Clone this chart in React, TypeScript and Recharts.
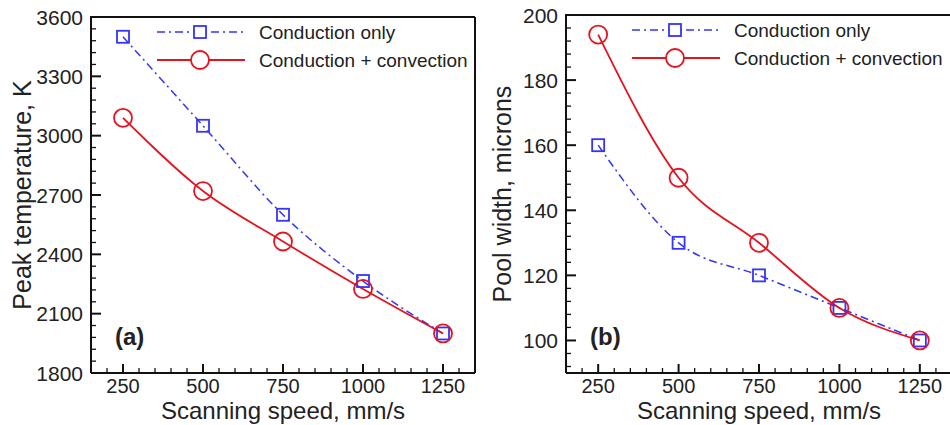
import React from 'react';
import { LineChart, Line, XAxis, YAxis } from 'recharts';

const speeds = [250, 500, 750, 1000, 1250];
const tempConduction = [3500, 3050, 2600, 2265, 2000];
const tempConvection = [3090, 2720, 2465, 2225, 2000];
const widthConduction = [160, 130, 120, 110, 100];
const widthConvection = [194, 150, 130, 110, 100];

const xTicks = [250, 500, 750, 1000, 1250];
const tempTicks = [1800, 2100, 2400, 2700, 3000, 3300, 3600];
const widthTicks = [100, 120, 140, 160, 180, 200];

const seriesNames = ['Conduction only', 'Conduction + convection'];

const BLUE = '#3535f5';
const RED = '#e3141f';
const INK = '#222';
const FONT = '"Liberation Sans", Arial, sans-serif';

const tempData = speeds.map((s, i) => ({ speed: s, a: tempConduction[i], b: tempConvection[i] }));
const widthData = speeds.map((s, i) => ({ speed: s, a: widthConduction[i], b: widthConvection[i] }));

// major + minor tick values for an axis
const withMinor = (lo: number, hi: number, step: number) => {
  const out: number[] = [];
  for (let v = lo; v <= hi + 1e-9; v += step) out.push(Math.round(v));
  return out;
};

const SquareDot = (props: any) => {
  const { cx, cy } = props;
  if (cx == null || cy == null) return null;
  return <rect x={cx - 6} y={cy - 6} width={12} height={12} fill="none" stroke={BLUE} strokeWidth={1.8} />;
};

const CircleDot = (props: any) => {
  const { cx, cy } = props;
  if (cx == null || cy == null) return null;
  return <circle cx={cx} cy={cy} r={9} fill="none" stroke={RED} strokeWidth={1.8} />;
};

const Legend = ({ x, y }: { x: number; y: number }) => (
  <g fontFamily={FONT} fontSize={19} fill={INK}>
    <line x1={x} x2={x + 88} y1={y} y2={y} stroke={BLUE} strokeWidth={1.5} strokeDasharray="8 4 2 4" />
    <rect x={x + 37} y={y - 6} width={12} height={12} fill="#fff" stroke={BLUE} strokeWidth={1.8} />
    <text x={x + 102} y={y + 7}>{seriesNames[0]}</text>
    <line x1={x} x2={x + 88} y1={y + 28} y2={y + 28} stroke={RED} strokeWidth={1.8} />
    <circle cx={x + 43} cy={y + 28} r={9} fill="#fff" stroke={RED} strokeWidth={1.8} />
    <text x={x + 102} y={y + 35}>{seriesNames[1]}</text>
  </g>
);

const makeYTick = (majors: number[], axisX: number) => (props: any) => {
  const { y, payload } = props;
  const major = majors.includes(payload.value);
  return (
    <g>
      <line x1={axisX} x2={axisX + (major ? 10 : 5)} y1={y} y2={y} stroke="#111" strokeWidth={major ? 2 : 1.3} />
      {major && (
        <text x={axisX - 8} y={y} dy="0.36em" textAnchor="end" fontFamily={FONT} fontSize={21} fill={INK}>
          {payload.value}
        </text>
      )}
    </g>
  );
};

const makeXTick = (majors: number[], axisY: number) => (props: any) => {
  const { x, payload } = props;
  const major = majors.includes(payload.value);
  return (
    <g>
      <line x1={x} x2={x} y1={axisY} y2={axisY - (major ? 9 : 5)} stroke="#111" strokeWidth={major ? 2 : 1.3} />
      {major && (
        <text x={x} y={axisY + 20} textAnchor="middle" fontFamily={FONT} fontSize={20} fill={INK}>
          {payload.value}
        </text>
      )}
    </g>
  );
};

interface PanelProps {
  data: any[];
  yTicks: number[];
  yAll: number[];
  yDomain: [number, number];
  yLabel: string;
  tag: string;
  yAxisWidth: number;
  top: number;
  right: number;
  width: number;
}

const PLOT_BOTTOM = 373;

const Panel = ({ data, yTicks, yAll, yDomain, yLabel, tag, yAxisWidth, top, right, width }: PanelProps) => {
  const xAll = withMinor(150, 1350, 50);
  return (
    <LineChart width={width} height={425} data={data} margin={{ top, right, left: 0, bottom: 0 }}>
      <XAxis dataKey="speed" type="number" domain={[150, 1350]} ticks={xAll} interval={0}
        tick={makeXTick(xTicks, PLOT_BOTTOM)} tickLine={false} height={425 - PLOT_BOTTOM} allowDataOverflow
        axisLine={{ stroke: '#111', strokeWidth: 2 }} />
      <YAxis type="number" domain={yDomain} ticks={yAll} width={yAxisWidth} interval={0}
        tick={makeYTick(yTicks, yAxisWidth)} tickLine={false} allowDataOverflow
        axisLine={{ stroke: '#111', strokeWidth: 2 }} />
      <Line type="monotone" dataKey="a" stroke={BLUE} strokeWidth={1.5}
        strokeDasharray="8 4 2 4" dot={<SquareDot />} activeDot={false} isAnimationActive={false} />
      <Line type="monotone" dataKey="b" stroke={RED} strokeWidth={1.8}
        dot={<CircleDot />} activeDot={false} isAnimationActive={false} />
      <line x1={yAxisWidth - 1} x2={width - right} y1={top} y2={top} stroke="#111" strokeWidth={2} />
      <line x1={width - right} x2={width - right} y1={top} y2={PLOT_BOTTOM} stroke="#111" strokeWidth={2} />
      <text x={yAxisWidth + 24} y={345} fontFamily={FONT} fontSize={24} fontWeight="bold" fill={INK}>{tag}</text>
      <text x={(yAxisWidth + width - right) / 2} y={419} textAnchor="middle" fontFamily={FONT} fontSize={24} fill={INK}>
        Scanning speed, mm/s
      </text>
      <text x={0} y={0} transform={`translate(31, ${(top + PLOT_BOTTOM) / 2}) rotate(-90)`} textAnchor="middle"
        fontFamily={FONT} fontSize={25} fill={INK}>{yLabel}</text>
      <Legend x={yAxisWidth + 66} y={top + 15} />
    </LineChart>
  );
};

export default function App() {
  return (
    <div style={{ position: 'absolute', left: 0, top: 0, width: 950, height: 425, overflow: 'hidden', background: '#fff' }}>
      <div style={{ position: 'absolute', left: 0, top: 0 }}>
        <Panel data={tempData} yTicks={tempTicks} yAll={withMinor(1800, 3600, 60)} yDomain={[1800, 3600]}
          yLabel="Peak temperature, K" tag="(a)" yAxisWidth={91} top={17} right={5} width={480} />
      </div>
      <div style={{ position: 'absolute', left: 480, top: 0 }}>
        <Panel data={widthData} yTicks={widthTicks} yAll={withMinor(92, 200, 4)} yDomain={[90, 200]}
          yLabel="Pool width, microns" tag="(b)" yAxisWidth={86} top={15} right={8} width={480} />
      </div>
    </div>
  );
}
